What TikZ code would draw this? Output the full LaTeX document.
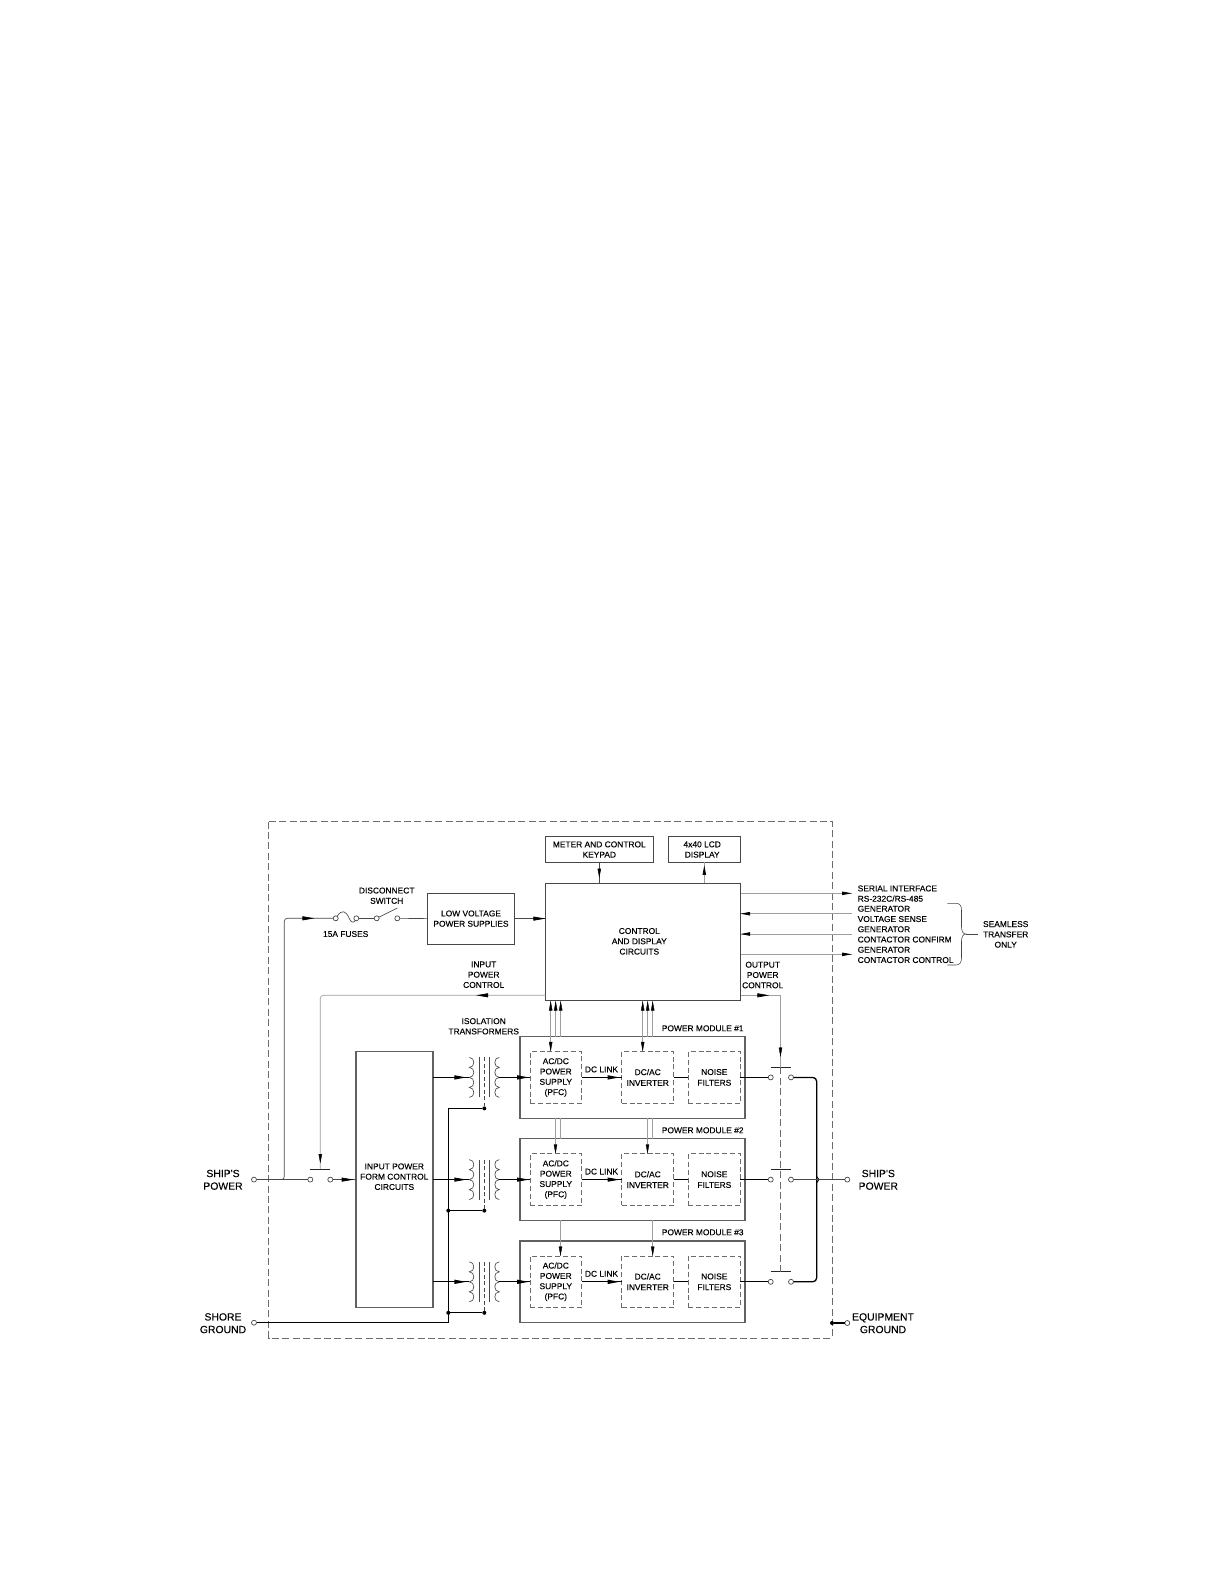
\documentclass[tikz,border=0pt]{standalone}
\usepackage{fontspec}
\setmainfont{Liberation Sans}
\newfontface\dfont{Liberation Sans}[FakeBold=0.07]
\usetikzlibrary{arrows.meta,decorations.markings}
\definecolor{ln}{gray}{0.28}
\definecolor{sig}{gray}{0.62}
\definecolor{dsh}{gray}{0.42}
\tikzset{
  x=1pt,y=-1pt,
  txt/.style={inner sep=0pt,outer sep=0pt,align=center,text=black,font=\dfont\fontsize{8.4}{10.3}\selectfont},
  txtl/.style={txt,align=left,anchor=west},
  bigtxt/.style={txt,font=\dfont\fontsize{10.4}{12.6}\selectfont},
  box/.style={draw=ln,line width=0.9pt,inner sep=0pt,outer sep=0pt,align=center,text=black,font=\dfont\fontsize{8.4}{10.3}\selectfont},
  modbox/.style={draw=black!62,line width=1.1pt,minimum width=225pt,minimum height=81.6pt,inner sep=0pt,outer sep=0pt},
  inbox/.style={box,draw=dsh,line width=0.8pt,dash pattern=on 5pt off 2.8pt,minimum height=51.6pt},
  term/.style={circle,draw=ln,fill=white,line width=0.7pt,minimum size=5pt,inner sep=0pt,outer sep=0pt},
  jdot/.style={circle,fill=black,minimum size=4pt,inner sep=0pt,outer sep=0pt},
  thinln/.style={draw=ln,line width=0.65pt},
  sigln/.style={draw=sig,line width=0.65pt},
  heavy/.style={draw=black,line width=1.3pt},
  bar/.style={draw=black!85,line width=1pt},
  dashln/.style={draw=dsh,line width=0.8pt,dash pattern=on 7pt off 3.4pt},
  arrowat/.style={postaction={decorate},decoration={markings,mark=at position #1 with {\arrow{Stealth[length=12pt,width=4pt,inset=0pt,black]}}}},
  arrowsm/.style={postaction={decorate},decoration={markings,mark=at position #1 with {\arrow{Stealth[length=9.5pt,width=3.4pt,inset=0pt,black]}}}},
}
\begin{document}
\begin{tikzpicture}
\useasboundingbox (0,0) rectangle (1224,1584);
\fill[white] (0,0) rectangle (1224,1584);
% outer dashed frame
\draw[dashln] (268.5,821.5) rectangle (832,1338);

% top boxes
\node[box,minimum width=107.3pt,minimum height=25.6pt] (meter) at (599.3,849.5) {METER AND CONTROL\\KEYPAD};
\node[box,minimum width=72pt,minimum height=25.6pt] (lcd) at (704.3,849.5) {};
\node[txt] (lcdt) at (702.2,849.5) {4x40 LCD\\DISPLAY};
\node[box,minimum width=194.8pt,minimum height=117.7pt] (ctrl) at (643.1,941.9) {};
\node[txt] (ctrlt) at (639.3,941.3) {CONTROL\\AND DISPLAY\\CIRCUITS};
\node[box,minimum width=87.4pt,minimum height=50.7pt] (lv) at (471,918.6) {LOW VOLTAGE\\POWER SUPPLIES};
\node[box,draw=black!62,line width=1.1pt,minimum width=77pt,minimum height=256pt] (form) at (394.5,1179.3) {};
\node[txt] (formt) at (394.3,1176.7) {INPUT POWER\\FORM CONTROL\\CIRCUITS};

% labels
\node[txt] (discl) at (386.7,895.7) {DISCONNECT\\SWITCH};
\node[txt] (fusel) at (345.7,934) {15A FUSES};
\node[txt] (ipcl) at (483.7,974.7) {INPUT\\POWER\\CONTROL};
\node[txt] (isol) at (483.7,1026.3) {ISOLATION\\TRANSFORMERS};
\node[txt] (opcl) at (762.7,975) {OUTPUT\\POWER\\CONTROL};
\node[txtl] (r1) at (857.7,893.6) {SERIAL INTERFACE\\RS-232C/RS-485};
\node[txtl] (r2) at (857.7,913.9) {GENERATOR\\VOLTAGE SENSE};
\node[txtl] (r3) at (857.7,934.4) {GENERATOR\\CONTACTOR CONFIRM};
\node[txtl] (r4) at (857.7,954.9) {GENERATOR\\CONTACTOR CONTROL};
\node[txt] (seam) at (1005.7,934.4) {SEAMLESS\\TRANSFER\\ONLY};
\node[bigtxt] (shipl) at (223,1179.8) {SHIP'S\\POWER};
\node[bigtxt] (shore) at (223,1323.2) {SHORE\\GROUND};
\node[bigtxt] (shipr) at (878.3,1179.8) {SHIP'S\\POWER};
\node[bigtxt] (eqgnd) at (883,1323.2) {EQUIPMENT\\GROUND};

% terminals and free points
\node[term] (tship) at (254,1179.6) {};
\node[term] (tshore) at (254,1322.7) {};
\node[term] (tout) at (847.3,1179.6) {};
\node[term] (teq) at (847.3,1323) {};
\node[jdot] (deq) at (832,1323) {};
\node[term] (swa) at (310.3,1179.6) {};
\node[term] (swb) at (330.3,1179.6) {};
\node[term] (fa) at (335.7,918.3) {};
\node[term] (fb) at (356.3,918.3) {};
\node[term] (da) at (376.7,918.3) {};
\node[term] (db) at (397.3,918.3) {};
\coordinate (blade) at (397.3,908);
\coordinate (barIa) at (310,1169);
\coordinate (barIb) at (330.3,1169);
\coordinate (barIc) at (320.3,1169);

% input side connectors
\draw[thinln] (tship) -- (swa);
\draw[thinln,rounded corners=3pt,arrowat=0.94] (279,1179.6) -- (284.3,1179.6) -- (284.3,918.3) -- (fa);
\draw[thinln,arrowat=0.9] (swb) -- (form.west |- swb);
\draw[thinln] (fa) .. controls (342,909) and (346,911) .. (349,918) .. controls (351,923) and (354,923) .. (fb);
\draw[thinln] (fb) -- (da);
\draw[thinln] (da) -- (blade);
\draw[thinln] (db) -- (lv.west);
\draw[thinln,arrowat=0.99] (lv.east) -- (ctrl.west |- lv.east);
\draw[bar] (barIa) -- (barIb);
\draw[sigln,rounded corners=3pt,arrowat=0.175] (ctrl.west |- 0,995.3) -- (320.3,995.3) -- (barIc);
\path[arrowsm=1] (320.3,1150) -- (320.3,1163.5);

% top arrows
\draw[thinln,arrowsm=0.76] (meter.south) -- (meter.south |- ctrl.north);
\draw[sigln,arrowsm=0.85] (lcd.south |- ctrl.north) -- (lcd.south);
\coordinate (rA) at (851.7,893.3);
\coordinate (rB) at (851.7,913.7);
\coordinate (rC) at (851.7,934);
\coordinate (rD) at (851.7,954.3);
\draw[sigln,arrowsm=1] (ctrl.east |- rA) -- (rA);
\draw[sigln,arrowsm=1] (rB) -- (ctrl.east |- rB);
\draw[sigln,line width=0.9pt,arrowsm=1] (rC) -- (ctrl.east |- rC);
\draw[sigln,arrowsm=1] (ctrl.east |- rD) -- (rD);
% output power control
\coordinate (barOc) at (780.5,1067.3);
\draw[sigln,arrowat=0.257] (ctrl.east |- 0,995.3) -- (780.5,995.3) -- (barOc);
\path[arrowsm=1] (780.5,1046) -- (780.5,1057);

% brace of the seamless group
\coordinate (braceT) at (947.3,903.3);
\coordinate (braceB) at (947.3,965);
\coordinate (braceS) at (978.3,934);
\draw[thinln,line width=0.55pt] (braceT) -- (956,903.3) .. controls (960,903.3) and (961.5,906) .. (961.5,910) -- (961.5,927) .. controls (961.5,931) and (963,934) .. (966,934) .. controls (963,934) and (961.5,937) .. (961.5,941) -- (961.5,958) .. controls (961.5,962) and (960,965) .. (956,965) -- (braceB);
\draw[thinln,line width=0.55pt] (966,934) -- (braceS);

% modules
\foreach \m/\y/\w/\lab in {1/1077.4/1.4/1028.3,2/1179.6/0.8/1130.3,3/1281.8/1.2/1232.3}{
  \node[modbox] (mod\m) at (632.5,\y) {};
  \node[txt] (modl\m) at (702.7,\lab) {POWER MODULE \#\m};
  \node[inbox,minimum width=51.7pt] (acdc\m) at (555.8,\y) {AC/DC\\POWER\\SUPPLY\\(PFC)};
  \node[inbox,minimum width=52pt] (inv\m) at (647.7,\y) {DC/AC\\[0.4pt]INVERTER};
  \node[inbox,minimum width=52pt] (noise\m) at (714.3,\y) {NOISE\\[0.4pt]FILTERS};
  \node[txt] (dcl\m) at (601.5,\y-8) {DC LINK};
  \node[term] (oa\m) at (770.7,\y) {};
  \node[term] (ob\m) at (791,\y) {};
  % chain through the module
  \draw[line width=\w pt,arrowat=0.95] (acdc\m.east) -- (inv\m.west);
  \draw[line width=\w pt] (inv\m.east) -- (noise\m.west);
  \draw[line width=\w pt] (noise\m.east) -- (oa\m);
  % transformer
  \coordinate (pc\m) at (469.3,\y);
  \coordinate (sc\m) at (499.3,\y);
  \coordinate (dt\m) at (484.3,\y-20);
  \node[jdot] (gd\m) at (484.3,\y+31) {};
  \draw[line width=0.65pt,draw=ln] (469.3,\y-20) \foreach \k in {1,...,4}{ .. controls (475.3,\y-20+10*\k-10) and (475.3,\y-20+10*\k) .. (469.3,\y-20+10*\k)};
  \draw[line width=0.65pt,draw=ln] (499.3,\y-20) \foreach \k in {1,...,4}{ .. controls (493.3,\y-20+10*\k-10) and (493.3,\y-20+10*\k) .. (499.3,\y-20+10*\k)};
  \draw[line width=0.7pt,draw=ln] (479.3,\y-20) -- (479.3,\y+20);
  \draw[line width=0.7pt,draw=ln] (489.3,\y-20) -- (489.3,\y+20);
  \draw[line width=0.7pt,draw=ln,dash pattern=on 4pt off 2.5pt] (dt\m) -- (gd\m);
  \draw[line width=\w pt,arrowat=0.92] (form.east |- pc\m) -- (pc\m);
  \draw[line width=\w pt,arrowat=0.97] (sc\m) -- (acdc\m.west);
}
% ground bus
\node[jdot] (bd2) at (448.3,1210.6) {};
\node[jdot] (bd3) at (448.3,1312.8) {};
\draw[heavy,line join=miter] (gd1) -- (448.3,1108.4) -- (448.3,1322.7) -- (tshore);
\draw[heavy] (bd2) -- (gd2);
\draw[heavy] (bd3) -- (gd3);
\draw[heavy] (deq) -- (teq);

% output bars, bus
\foreach \m/\b in {1/1067.3,2/1169,3/1271.7}{
  \coordinate (bl\m) at (770.7,\b);
  \coordinate (br\m) at (791,\b);
  \draw[bar] (bl\m) -- (br\m);
}
\draw[dashln] (barOc) -- (780.5,1271.7);
\draw[heavy,rounded corners=4pt] (ob1) -- (816.7,1077.4) -- (816.7,1281.8) -- (ob3);
\draw[heavy,line width=0.9pt] (816.7,1176.6) -- (819,1179.6) -- (816.7,1182.6);
\draw[thinln] (ob2) -- (tout);
% module signal lines
\foreach \x in {550.7,642.7}{
  \draw[sigln] (\x,1001) -- (\x,1051.4);
  \path[arrowsm=1] (\x,1035) -- (\x,1051.4);
  \path[arrowsm=1] (\x,1012) -- (\x,1001);
}
\foreach \x in {555.7,560.7,647.7,652.7}{
  \draw[sigln] (\x,1001) -- (\x,1036.7);
  \path[arrowsm=1] (\x,1012) -- (\x,1001);
}
\foreach \x in {555.5,647.5}{
  \draw[sigln] (\x,1118.3) -- (\x,1153.8);
  \path[arrowsm=1] (\x,1140) -- (\x,1153.8);
}
\foreach \x in {560.5,652.7}{
  \draw[sigln] (\x,1118.3) -- (\x,1138.8);
  \draw[sigln] (\x,1220.4) -- (\x,1256);
  \path[arrowsm=1] (\x,1240) -- (\x,1256);
}
\end{tikzpicture}
\end{document}
